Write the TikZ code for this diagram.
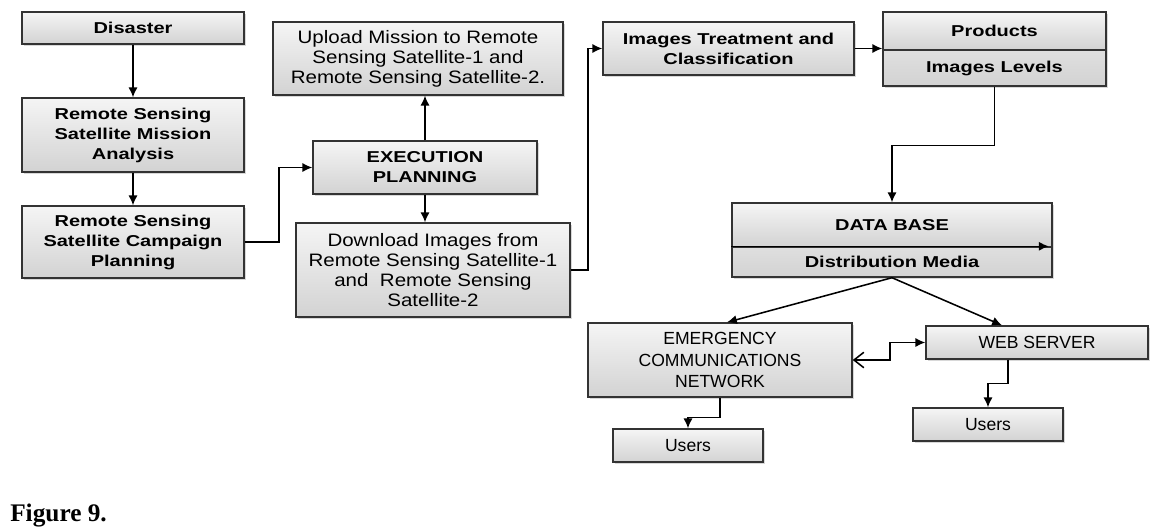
\documentclass[tikz,border=0pt]{standalone}
\usepackage{fontspec}
\setmainfont{Liberation Sans}
\newfontfamily\boldfnt{Liberation Sans}[FakeStretch=1.27]
\newfontfamily\plainfnt{Liberation Sans}[FakeStretch=1.14]
\newfontfamily\capfont{Liberation Serif}
\usetikzlibrary{arrows.meta,shadows,calc}

\tikzset{
  box/.style={draw=black!80, line width=1pt, top color=gray!8, bottom color=gray!35,
    drop shadow={shadow xshift=1.5pt, shadow yshift=-1.5pt, fill=gray!60, opacity=.5},
    inner sep=0pt, align=center},
  boldbox/.style={box, font=\boldfnt\fontsize{11.2}{14.2}\selectfont\bfseries},
  plainbox/.style={box, font=\plainfnt\fontsize{12.8}{14.2}\selectfont},
  capsbox/.style={box, font=\fontsize{12.5}{15}\selectfont},
  usersbox/.style={box, font=\fontsize{12.5}{14}\selectfont, minimum width=3.75cm, minimum height=0.825cm},
  link/.style={line width=1.1pt, -{Latex[length=7pt,width=6.5pt]}}
}

\begin{document}
\begin{tikzpicture}[x=0.025cm, y=-0.025cm]
\useasboundingbox (0,0) rectangle (1159,527);

% left column
\node[boldbox, minimum width=5.55cm, minimum height=0.8cm] (disaster) at (133,28) {Disaster};
\node[boldbox, minimum width=5.55cm, minimum height=1.85cm] (mission) at (133,135) {Remote Sensing\\Satellite Mission\\Analysis};
\node[boldbox, minimum width=5.55cm, minimum height=1.8cm] (campaign) at (133,242) {Remote Sensing\\Satellite Campaign\\Planning};

% execution
\node[plainbox, minimum width=7.25cm, minimum height=1.825cm] (upload) at (418,58.5) {Upload Mission to Remote\\Sensing Satellite-1 and\\Remote Sensing Satellite-2.};
\node[boldbox, minimum width=5.6cm, minimum height=1.325cm] (exec) at (425,167.5) {EXECUTION\\PLANNING};
\node[plainbox, minimum width=6.85cm, minimum height=2.35cm] (download) at (433,270) {Download Images from\\Remote Sensing Satellite-1\\and~ Remote Sensing\\Satellite-2};

% processing
\node[boldbox, minimum width=6.275cm, minimum height=1.325cm] (treat) at (728.5,48.5) {Images Treatment and\\Classification};
\node[boldbox, minimum width=5.575cm, minimum height=0.95cm] (prodtop) at (994.5,31) {Products};
\node[boldbox, minimum width=5.575cm, minimum height=0.9cm, top color=gray!25] (prodbot) at (994.5,68) {Images Levels};
\node[boldbox, minimum width=8cm, minimum height=1.1cm] (dbtop) at (892,225) {DATA BASE};
\node[boldbox, minimum width=8cm, minimum height=0.75cm, top color=gray!25] (dbbot) at (892,262) {Distribution Media};

% distribution
\node[capsbox, minimum width=6.6cm, minimum height=1.85cm] (emerg) at (720,360) {EMERGENCY\\COMMUNICATIONS\\NETWORK};
\node[capsbox, minimum width=5.55cm, minimum height=0.825cm] (web) at (1037,342.5) {WEB SERVER};
\node[usersbox] (users1) at (688,445.5) {Users};
\node[usersbox] (users2) at (988,424.5) {Users};

% connectors
\draw[link] (disaster) -- (mission);
\draw[link] (mission) -- (campaign);
\draw[link] (campaign.east) -- ++(34,0) |- (exec.west);
\draw[link] (exec.north) -- (upload.south -| exec.north);
\draw[link] (exec.south) -- (download.north -| exec.south);
\draw[link] (download.east) -- ++(17,0) |- (treat.west);
\draw[link] (treat.east) -- (treat.east -| prodtop.west);
\draw[link] (prodbot.south) -- ++(0,59) -| (dbtop.north);
\draw[link] (dbbot.north west) -- ($(dbbot.north east)+(-4,0)$);
\draw[link] (dbbot.south) -- ($(emerg.north)+(7,0)$);
\draw[link] (dbbot.south) -- ($(web.north)+(-35,0)$);
\draw[line width=1.1pt, {Straight Barb[length=7pt,width=11pt]}-{Latex[length=7pt,width=6.5pt]}] (emerg.east) -- ++(37,0) |- (web.west);
\draw[link] (emerg.south) -- ++(0,20) -| (users1.north);
\draw[link] ($(web.south)+(-29,0)$) -- ++(0,24) -| (users2.north);

% caption
\node[anchor=base west, inner sep=0pt, font=\capfont\fontsize{18}{20}\selectfont\bfseries] (caption) at (10,521) {Figure 9.};
\end{tikzpicture}
\end{document}
